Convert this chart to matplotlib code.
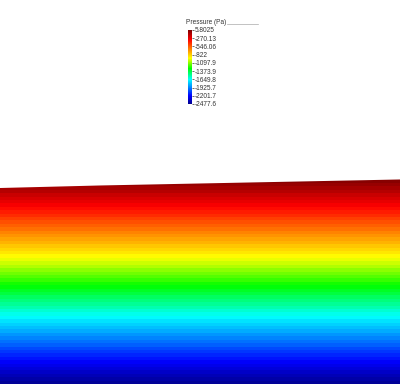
import numpy as np
import matplotlib
matplotlib.use("Agg")
import matplotlib.pyplot as plt
from matplotlib.patches import Polygon
from matplotlib.colors import Normalize, LinearSegmentedColormap
from matplotlib.cm import ScalarMappable

plt.rcParams['font.family'] = ['Liberation Sans', 'DejaVu Sans']

# free surface of the water column (m)
surface_x = [0.0, 0.25, 0.5, 0.75, 1.0]
surface_y = [0.490, 0.4963, 0.5013, 0.5063, 0.5113]

# pressure range shown by the colour legend (Pa)
p_min = -2477.6
p_max = 5.8025
tick_values = [5.8025, -270.13, -546.06, -822, -1097.9, -1373.9,
               -1649.8, -1925.7, -2201.7, -2477.6]
tick_labels = ['5.8025', '-270.13', '-546.06', '-822', '-1097.9', '-1373.9',
               '-1649.8', '-1925.7', '-2201.7', '-2477.6']
n_bands = 60

# rainbow map like the viewer's "jet" (saturated green in the middle)
cmap = LinearSegmentedColormap.from_list('pv_jet', [
    (0.00, (0.0, 0.0, 0.56)),
    (0.11, (0.0, 0.0, 1.0)),
    (0.33, (0.0, 1.0, 1.0)),
    (0.48, (0.0, 1.0, 0.0)),
    (0.62, (1.0, 1.0, 0.0)),
    (0.87, (1.0, 0.0, 0.0)),
    (1.00, (0.5, 0.0, 0.0)),
])

fig = plt.figure(figsize=(4.0, 3.87), dpi=100)
ax = fig.add_axes([0, 0, 1, 1])
ax.set_xlim(0, 1.0)
ax.set_ylim(-0.0075, 0.96)
ax.axis('off')

# hydrostatic field: linear between bottom and highest surface point
x = np.linspace(0, 1.0, 50)
y = np.linspace(0, max(surface_y), 400)
X, Y = np.meshgrid(x, y)
P = np.interp(Y, [0, max(surface_y)], [p_min, p_max])

levels = np.linspace(p_min, p_max, n_bands + 1)
cs = ax.contourf(X, Y, P, levels=levels, cmap=cmap, antialiased=False)

outline = list(zip(surface_x, surface_y)) + [(1.0, 0.0), (0.0, 0.0)]
clip = Polygon(outline, closed=True, transform=ax.transData, facecolor='none', edgecolor='none')
ax.add_patch(clip)
cs.set_clip_path(clip)

# colour legend
cax = fig.add_axes([188 / 400, 1 - 104 / 387, 4 / 400, 74 / 387])
sm = ScalarMappable(norm=Normalize(p_min, p_max), cmap=cmap)
cb = fig.colorbar(sm, cax=cax, ticks=tick_values)
cb.ax.set_yticklabels(tick_labels)
cb.ax.tick_params(labelsize=4.7, length=1.5, width=0.5, pad=0.5, colors='#333333')
cb.outline.set_visible(False)

fig.text(186 / 400, 1 - 24 / 387, 'Pressure (Pa)', fontsize=4.7, color='#333333',
         ha='left', va='baseline')
fig.add_artist(plt.Line2D([227 / 400, 258 / 400], [1 - 24 / 387, 1 - 24 / 387],
                          color='#aaaaaa', lw=0.5))

fig.savefig('out.png', dpi=100)
